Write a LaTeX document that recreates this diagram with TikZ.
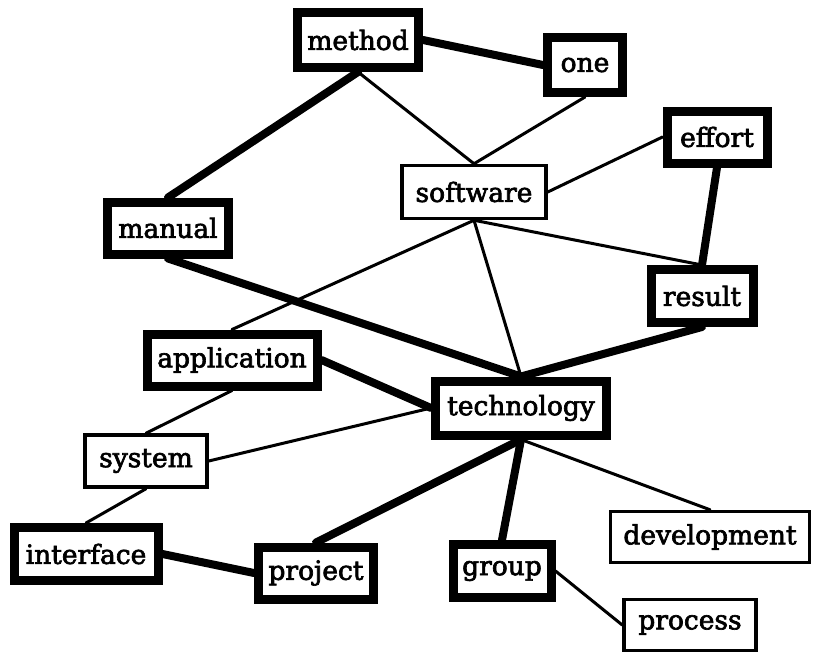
\documentclass[tikz,border=0pt]{standalone}
\usepackage{fontspec}
\setmainfont{DejaVu Serif}[FakeBold=2.5]
\begin{document}
\begin{tikzpicture}[x=1pt,y=-1pt,
  word/.style={rectangle, inner sep=0pt, font=\fontsize{26.5}{30}\selectfont, fill=white},
  heavybox/.style={word, draw, line width=9pt},
  lightbox/.style={word, draw, line width=3.5pt},
  heavylink/.style={line width=8pt, line cap=round},
  lightlink/.style={line width=3pt, line cap=round}]
\useasboundingbox (0,0) rectangle (814,664);
\fill[white] (0,0) rectangle (814,664);

% word boxes
\path
  (358,40)  node[heavybox, minimum width=121pt, minimum height=55pt] (method) {method}
  (585,65)  node[heavybox, minimum width=75pt,  minimum height=55pt] (one) {one}
  (474,192) node[lightbox, minimum width=144pt, minimum height=53pt] (software) {software}
  (717,137) node[heavybox, minimum width=100pt, minimum height=52pt] (effort) {effort}
  (702,296) node[heavybox, minimum width=102pt, minimum height=53pt] (result) {result}
  (168,228) node[heavybox, minimum width=121pt, minimum height=52pt] (manual) {manual}
  (232,360) node[heavybox, minimum width=170pt, minimum height=52pt] (application) {application}
  (521,408) node[heavybox, minimum width=171pt, minimum height=54pt] (technology) {technology}
  (146,461) node[lightbox, minimum width=122pt, minimum height=52pt] (system) {system}
  (86,554)  node[heavybox, minimum width=144pt, minimum height=53pt] (interface) {interface}
  (316,573) node[heavybox, minimum width=115pt, minimum height=52pt] (project) {project}
  (502,571) node[heavybox, minimum width=98pt,  minimum height=53pt] (group) {group}
  (710,537) node[lightbox, minimum width=199pt, minimum height=51pt] (development) {development}
  (690,625) node[lightbox, minimum width=132pt, minimum height=51pt] (process) {process};

% strong and weak links between the words
\draw[heavylink] (method.south) -- (manual.north);
\draw[heavylink] (method.east) -- (one.west);
\draw[lightlink] (method.south) -- (software.north);
\draw[lightlink] (one.south) -- (software.north);
\draw[lightlink] (software.east) -- (effort.west);
\draw[heavylink] (effort.south) -- (result.north);
\draw[lightlink] (software.south) -- (result.north);
\draw[lightlink] (software.south) -- (technology.north);
\draw[lightlink] (software.south) -- (application.north);
\draw[heavylink] (manual.south) -- (technology.north);
\draw[heavylink] (result.south) -- (technology.north);
\draw[heavylink] (application.east) -- (technology.west);
\draw[lightlink] (system.east) -- (technology.west);
\draw[lightlink] (system.north) -- (application.south);
\draw[lightlink] (system.south) -- (interface.north);
\draw[heavylink] (interface.east) -- (project.west);
\draw[heavylink] (project.north) -- (technology.south);
\draw[heavylink] (group.north) -- (technology.south);
\draw[lightlink] (technology.south) -- (development.north);
\draw[lightlink] (group.east) -- (process.west);
\end{tikzpicture}
\end{document}
